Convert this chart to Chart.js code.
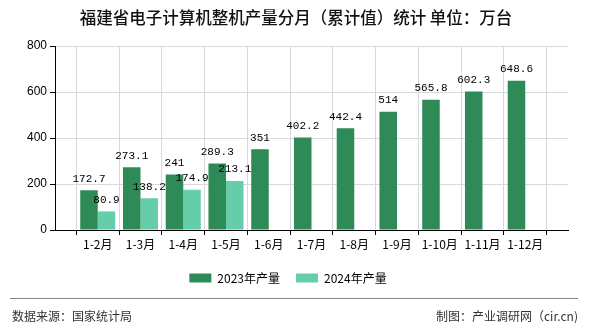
<!DOCTYPE html>
<html>
<head>
<meta charset="utf-8">
<script src="https://cdn.jsdelivr.net/npm/chart.js@4.4.1/dist/chart.umd.min.js"></script>
<style>
  html, body { margin: 0; padding: 0; background: #fff; }
  #wrap { width: 590px; height: 330px; position: relative; }
</style>
</head>
<body>
<div id="wrap"><canvas id="myBarChart"></canvas></div>
<script>
const categories = ["1-2月", "1-3月", "1-4月", "1-5月", "1-6月", "1-7月", "1-8月", "1-9月", "1-10月", "1-11月", "1-12月"];
const prod2023 = [172.7, 273.1, 241, 289.3, 351, 402.2, 442.4, 514, 565.8, 602.3, 648.6];
const prod2024 = [80.9, 138.2, 174.9, 213.1];
const yTicks = [0, 200, 400, 600, 800];

const titleText = "福建省电子计算机整机产量分月（累计值）统计 单位：万台";
const sourceText = "数据来源：国家统计局";
const creditText = "制图：产业调研网（cir.cn)";

// one empty slot on each side, like the original axis
const labels = ["", ...categories, ""];
const pad = arr => [null, ...arr, ...Array(categories.length - arr.length).fill(null), null];

const cjk = '"Noto Sans CJK SC", "Noto Sans", sans-serif';

const decor = {
    id: "decor",
    afterDraw(chart) {
        const ctx = chart.ctx;
        ctx.save();
        ctx.fillStyle = "#111";
        ctx.font = "500 16.5px " + cjk;
        ctx.textAlign = "center";
        ctx.textBaseline = "middle";
        ctx.fillText(titleText, 296, 18);

        ctx.strokeStyle = "#888";
        ctx.lineWidth = 1;
        ctx.beginPath();
        ctx.moveTo(10, 298.5);
        ctx.lineTo(578, 298.5);
        ctx.stroke();

        ctx.fillStyle = "#333";
        ctx.font = "12px " + cjk;
        ctx.textAlign = "left";
        ctx.fillText(sourceText, 12, 316);
        ctx.textAlign = "right";
        ctx.fillText(creditText, 578, 316);

        // value labels above bars
        ctx.fillStyle = "#000";
        ctx.font = '11px "Liberation Mono", monospace';
        ctx.textAlign = "center";
        ctx.textBaseline = "bottom";
        chart.data.datasets.forEach((ds, i) => {
            const meta = chart.getDatasetMeta(i);
            meta.data.forEach((bar, j) => {
                const v = ds.data[j];
                if (v === null || v === undefined) return;
                ctx.fillText(String(v), bar.x, bar.y - 6);
            });
        });
        ctx.restore();
    }
};

const ctx = document.getElementById("myBarChart").getContext("2d");
new Chart(ctx, {
    type: "bar",
    data: {
        labels: labels,
        datasets: [{
            label: "2023年产量",
            data: pad(prod2023),
            backgroundColor: "#2E8B57",
            borderWidth: 0
        }, {
            label: "2024年产量",
            data: pad(prod2024),
            backgroundColor: "#66CDAA",
            borderWidth: 0
        }]
    },
    options: {
        responsive: true,
        maintainAspectRatio: false,
        animation: false,
        layout: {
            padding: { left: 8, right: 22, top: 46, bottom: 36 }
        },
        datasets: {
            bar: { categoryPercentage: 0.82, barPercentage: 1 }
        },
        scales: {
            x: {
                offset: false,
                grid: { color: "#d9d9d9", tickColor: "#000", tickLength: 5 },
                border: { color: "#000" },
                ticks: {
                    autoSkip: false,
                    maxRotation: 0,
                    color: "#000",
                    padding: 2,
                    font: { family: cjk, size: 12 }
                },
                afterFit: scale => { scale.height = 26; }
            },
            y: {
                min: 0,
                max: 800,
                afterBuildTicks: scale => { scale.ticks = yTicks.map(v => ({ value: v })); },
                grid: { color: "#d9d9d9", tickColor: "#000", tickLength: 5 },
                border: { color: "#000" },
                ticks: {
                    color: "#000",
                    padding: 3,
                    font: { family: '"Liberation Sans", Arial, sans-serif', size: 12 }
                },
                afterFit: scale => { scale.width = 47; }
            }
        },
        plugins: {
            legend: {
                position: "bottom",
                labels: {
                    boxWidth: 22,
                    boxHeight: 9,
                    padding: 16,
                    color: "#000",
                    font: { family: cjk, size: 12 }
                }
            },
            tooltip: { enabled: false }
        }
    },
    plugins: [decor]
});
</script>
</body>
</html>
